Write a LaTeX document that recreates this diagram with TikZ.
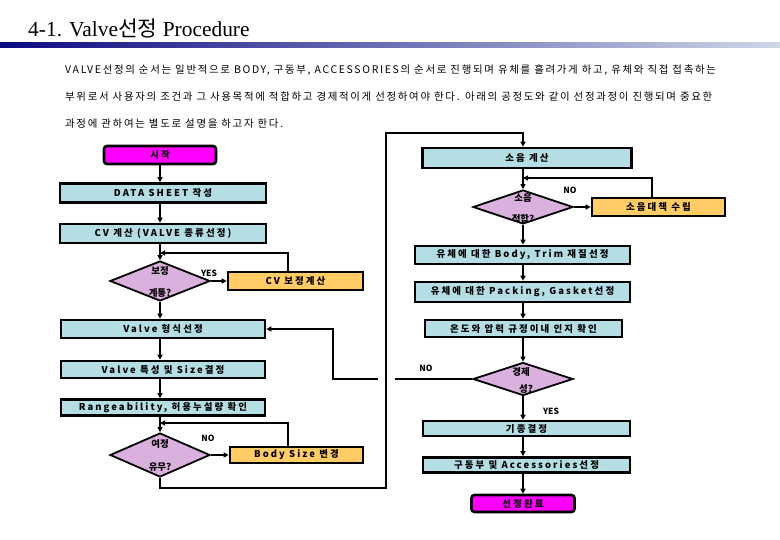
\documentclass[tikz,border=0pt]{standalone}
\usepackage{fontspec}
\setmainfont{Liberation Serif}
\newfontfamily\kr{Noto Sans CJK KR}
\newfontfamily\krp[LetterSpace=16]{Noto Sans CJK KR}
\newfontfamily\krb[LetterSpace=22]{Noto Sans CJK KR}
\usetikzlibrary{shapes.geometric,arrows.meta}
\definecolor{boxblue}{RGB}{180,222,228}
\definecolor{boxorange}{RGB}{255,204,102}
\definecolor{dlilac}{RGB}{218,176,222}
\definecolor{mag}{RGB}{255,0,255}
\definecolor{navy}{RGB}{10,10,130}
\definecolor{barlight}{RGB}{205,215,230}
\begin{document}
\begin{tikzpicture}[x=1bp,y=-1bp,
 box/.style={draw=black,line width=2.6bp,fill=boxblue,inner sep=0pt,font=\krb\bfseries\fontsize{9.5}{10}\selectfont},
 obox/.style={box,fill=boxorange},
 term/.style={box,fill=mag,rounded corners=3bp},
 dia/.style={diamond,draw=black,line width=1.8bp,fill=dlilac,inner sep=0pt},
 dtxt/.style={font=\kr\bfseries\fontsize{9.5}{10}\selectfont,inner sep=0pt},
 lbl/.style={font=\kr\bfseries\fontsize{8.5}{9}\selectfont,inner sep=0pt},
 para/.style={anchor=west,inner sep=0pt,font=\krp\fontsize{10.5}{12}\selectfont},
 arr/.style={line width=2bp,-{Triangle[length=5bp,width=5bp]}},
 ln/.style={line width=2bp},
]
\useasboundingbox[fill=white] (0,0) rectangle (780,540);
% title
\node[anchor=base west,inner sep=0pt] (title) at (28,37) {\fontsize{21.5}{23}\selectfont 4-1. Valve{\kr 선정} Procedure};
\shade[left color=navy,right color=barlight] (0,43) rectangle (780,48);
% paragraph
\node[para] (p1) at (65,70) {VALVE선정의 순서는 일반적으로 BODY, 구동부, ACCESSORIES의 순서로 진행되며 유체를 흘려가게 하고, 유체와 직접 접촉하는};
\node[para] (p2) at (65,97) {부위로서 사용자의 조건과 그 사용목적에 적합하고 경제적이게 선정하여야 한다. 아래의 공정도와 같이 선정과정이 진행되며 중요한};
\node[para] (p3) at (65,124) {과정에 관하여는 별도로 설명을 하고자 한다.};
% left column
\node[term,minimum width=112bp,minimum height=18bp] (start) at (160,155) {시작};
\node[box,minimum width=206bp,minimum height=19bp] (ds) at (163,193) {DATA SHEET 작성};
\node[box,minimum width=206bp,minimum height=19bp] (cv) at (163,233.5) {CV 계산 (VALVE 종류선정)};
\node[dia,minimum width=100bp,minimum height=40bp] (d1) at (160,281) {};
\node[dtxt] (d1a) at (160,271) {보정};
\node[dtxt] (d1b) at (160,293) {계통?};
\node[obox,minimum width=135bp,minimum height=18bp] (cvc) at (295.5,281) {CV 보정계산};
\node[box,minimum width=204bp,minimum height=18bp] (vf) at (163,329) {Valve 형식선정};
\node[box,minimum width=204bp,minimum height=17bp] (vs) at (163,369.5) {Valve 특성 및 Size결정};
\node[box,minimum width=204bp,minimum height=16bp] (rg) at (163,407.5) {Rangeability, 허용누설량 확인};
\node[dia,minimum width=100bp,minimum height=44bp] (d2) at (160,455) {};
\node[dtxt] (d2a) at (160,444) {여정};
\node[dtxt] (d2b) at (160,467) {유무?};
\node[obox,minimum width=133bp,minimum height=16bp] (bs) at (296.5,455) {Body Size 변경};
\node[lbl] (yes1) at (209,273) {YES};
\node[lbl] (no1) at (208,438) {NO};
% right column
\node[box,minimum width=209bp,minimum height=20bp] (sn) at (527,158) {소음 계산};
\node[dia,minimum width=100bp,minimum height=34bp] (d3) at (523,207) {};
\node[dtxt] (d3a) at (523,198) {소음};
\node[dtxt] (d3b) at (523,219) {적합?};
\node[obox,minimum width=133bp,minimum height=18bp] (nc) at (658.5,207) {소음대책 수립};
\node[lbl] (no2) at (570,190) {NO};
\node[box,minimum width=215bp,minimum height=18bp] (bt) at (522.5,255) {유체에 대한 Body, Trim 재질선정};
\node[box,minimum width=215bp,minimum height=20bp] (pg) at (522.5,292) {유체에 대한 Packing, Gasket선정};
\node[box,minimum width=197bp,minimum height=17bp] (tp) at (523.5,328.5) {온도와 압력 규정이내 인지 확인};
\node[dia,minimum width=100bp,minimum height=33bp] (d4) at (523,379) {};
\node[dtxt] (d4a) at (521,372) {경제};
\node[dtxt] (d4b) at (526,389) {성?};
\node[lbl] (no3) at (426,368) {NO};
\node[lbl] (yes2) at (551,411) {YES};
\node[box,minimum width=207bp,minimum height=15bp] (kj) at (526.5,428.5) {기종결정};
\node[box,minimum width=207bp,minimum height=15bp] (ga) at (526.5,465) {구동부 및 Accessories선정};
\node[term,minimum width=103bp,minimum height=17bp] (done) at (523,503.5) {선정완료};
% helper coordinates
\coordinate (l1r) at (288,253);
\coordinate (l1) at (160,253);
\coordinate (l2r) at (288,423);
\coordinate (l2) at (160,423);
\coordinate (c1) at (160,488);
\coordinate (c2) at (386,488);
\coordinate (c3) at (386,133);
\coordinate (c4) at (523,133);
\coordinate (l3r) at (652,178);
\coordinate (l3) at (523,178);
\coordinate (h1) at (395,379);
\coordinate (h2) at (378,379);
\coordinate (k1) at (333,379);
% left connectors
\draw[arr] (start) -- (start |- ds.north);
\draw[arr] (ds.south -| start) -- (start |- cv.north);
\draw[arr] (cv.south -| d1) -- (d1);
\draw[arr] (cvc.north -| l1r) -- (l1r) -- (l1);
\draw[arr] (d1) -- (cvc);
\draw[arr] (d1) -- (d1 |- vf.north);
\draw[arr] (vf.south -| d1) -- (d1 |- vs.north);
\draw[arr] (vs.south -| d1) -- (d1 |- rg.north);
\draw[arr] (rg.south -| d2) -- (d2);
\draw[arr] (bs.north -| l2r) -- (l2r) -- (l2);
\draw[arr] (d2) -- (bs);
\draw[arr] (d2) -- (c1) -- (c2) -- (c3) -- (c4) -- (c4 |- sn.north);
% right connectors
\draw[arr] (sn.south -| d3) -- (d3);
\draw[arr] (nc.north -| l3r) -- (l3r) -- (l3);
\draw[arr] (d3) -- (nc);
\draw[arr] (d3) -- (d3 |- bt.north);
\draw[arr] (bt.south -| d3) -- (d3 |- pg.north);
\draw[arr] (pg.south -| d3) -- (d3 |- tp.north);
\draw[arr] (tp.south -| d4) -- (d4);
\draw[arr] (d4) -- (d4 |- kj.north);
\draw[arr] (kj.south -| d4) -- (d4 |- ga.north);
\draw[arr] (ga.south -| done) -- (done);
\draw[ln] (d4) -- (h1);
\draw[arr] (h2) -- (k1) |- (vf.east);
\end{tikzpicture}
\end{document}
